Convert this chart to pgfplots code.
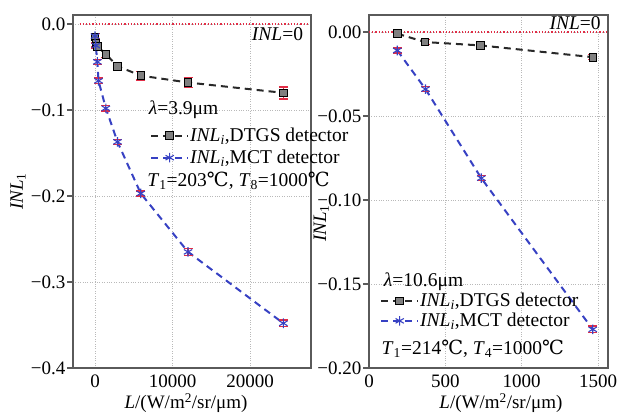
\documentclass[border=0pt]{standalone}
\usepackage{pgfplots}
\pgfplotsset{compat=1.18}
\usepackage{pgfplotstable}
\usepackage{fontspec}
\setmainfont{Liberation Serif}
\newfontfamily\dejavu{DejaVu Serif}
\newcommand{\degC}{{\dejavu ℃}}
\definecolor{mctblue}{RGB}{55,65,195}
\definecolor{dtgsblack}{RGB}{40,40,40}
\definecolor{errred}{RGB}{225,45,70}
\definecolor{framegray}{RGB}{90,90,90}

\pgfplotstableread{
x y e
0 -0.015 0.004
100 -0.022 0.004
300 -0.026 0.004
1400 -0.035 0.004
2900 -0.049 0.004
5900 -0.060 0.005
12000 -0.068 0.006
24300 -0.080 0.007
}\leftdtgs
\pgfplotstableread{
x y e
0 -0.014 0.003
100 -0.025 0.003
300 -0.044 0.003
450 -0.066 0.003
1400 -0.098 0.003
2900 -0.137 0.003
5900 -0.197 0.003
12000 -0.265 0.004
24300 -0.348 0.004
}\leftmct
\pgfplotstableread{
x y e
185 -0.001 0.0015
367 -0.006 0.0015
730 -0.008 0.0015
1465 -0.015 0.0015
}\rightdtgs
\pgfplotstableread{
x y e
185 -0.011 0.0015
370 -0.034 0.0015
735 -0.087 0.0015
1465 -0.177 0.002
}\rightmct

\pgfplotsset{
  common/.style={
    scale only axis, clip=false,
    height=353pt,
    font=\fontsize{19}{21}\selectfont,
    axis line style={framegray, line width=1.2pt},
    grid=major,
    major grid style={gray!55, dotted, line width=0.9pt},
    tick align=outside,
    xtick style={draw=none},
    ytick style={framegray, line width=1.2pt},
    major tick length=6pt,
    ytick pos=left, xtick pos=bottom,
    xticklabel style={inner sep=1pt},
    yticklabel style={inner sep=1.5pt},
    scaled x ticks=false, scaled y ticks=false,
    legend cell align=left,
    legend style={draw=none, fill=none, inner sep=0pt, row sep=5pt,
      nodes={inner sep=1pt},
      font=\fontsize{19.5}{21}\selectfont},
    legend image code/.code={
      \draw[mark repeat=2,mark phase=2,##1] plot coordinates {(0cm,0cm) (0.65cm,0cm) (1.3cm,0cm)};
    },
    xlabel={\textit{L}/(W/m\textsuperscript{2}/sr/μm)},
    ylabel={\textit{INL}\textsubscript{1}},
  },
  dtgs/.style={dtgsblack, line width=2pt, dash pattern=on 7pt off 5pt,
    mark=square*, mark size=3.8pt, mark options={solid, fill=gray, draw=black, line width=0.8pt}},
  mct/.style={mctblue, line width=2pt, dash pattern=on 7pt off 5pt,
    mark=asterisk, mark size=4.8pt, mark options={solid, mctblue, line width=1.1pt}},
  errs/.style={error bars/.cd, y dir=both, y explicit,
    error bar style={errred, line width=1.2pt, solid},
    error mark options={errred, mark size=4.5pt, line width=1.5pt, rotate=90}},
}

\begin{document}
\begin{tikzpicture}
\path[use as bounding box] (0,0) rectangle (617pt,-413pt);

\begin{axis}[common,
  at={(73pt,-368pt)}, anchor=south west,
  width=238pt,
  xmin=-2840, xmax=27870, ymin=-0.4, ymax=0.0105,
  xtick={0,10000,20000}, xticklabels={0,10000,20000},
  ytick={-0.4,-0.3,-0.2,-0.1,0}, yticklabels={−0.4,−0.3,−0.2,−0.1,0.0},
  ylabel style={at={(axis description cs:-0.231,0.5)}, anchor=center},
  xlabel style={at={(axis description cs:0.475,-0.072)}, anchor=north, inner sep=0pt},
  legend style={at={(axis description cs:0.3235,0.683)}, anchor=north west},
]
\addplot[errred, dotted, line width=1.2pt, forget plot] coordinates {(-2000,0) (27500,0)};
\addplot[dtgs, errs] table[x=x, y=y, y error=e] {\leftdtgs};
\addlegendentry{\textit{INL}\textsubscript{\textit{i}},DTGS detector}
\addplot[mct, errs] table[x=x, y=y, y error=e] {\leftmct};
\addlegendentry{\textit{INL}\textsubscript{\textit{i}},MCT detector}
\node[anchor=west, font=\fontsize{19.5}{21}\selectfont] at (axis cs:6500,-0.1) {\textit{λ}=3.9μm};
\node[anchor=west, font=\fontsize{19.5}{21}\selectfont] at (axis cs:6300,-0.1825) {\textit{T}\textsubscript{1}=203\degC, \textit{T}\textsubscript{8}=1000\degC};
\node[anchor=east, font=\fontsize{19.5}{21}\selectfont] at (axis cs:27300,-0.0116) {\textit{INL}=0};
\end{axis}

\begin{axis}[common,
  at={(369pt,-368pt)}, anchor=south west,
  width=239pt,
  xmin=0, xmax=1565, ymin=-0.2, ymax=0.0101,
  xtick={0,500,1000,1500}, xticklabels={0,500,1000,1500},
  ytick={-0.2,-0.15,-0.1,-0.05,0}, yticklabels={−0.20,−0.15,−0.10,−0.05,0.00},
  ylabel style={at={(axis description cs:-0.2,0.41)}, anchor=center},
  xlabel style={at={(axis description cs:0.552,-0.072)}, anchor=north, inner sep=0pt},
  legend style={at={(axis description cs:0.046,0.215)}, anchor=north west, row sep=3pt},
]
\addplot[errred, dotted, line width=1.2pt, forget plot] coordinates {(0,0) (1565,0)};
\addplot[dtgs, errs] table[x=x, y=y, y error=e] {\rightdtgs};
\addlegendentry{\textit{INL}\textsubscript{\textit{i}},DTGS detector}
\addplot[mct, errs] table[x=x, y=y, y error=e] {\rightmct};
\addlegendentry{\textit{INL}\textsubscript{\textit{i}},MCT detector}
\node[anchor=west, font=\fontsize{19.5}{21}\selectfont] at (axis cs:75,-0.1488) {\textit{λ}=10.6μm};
\node[anchor=west, font=\fontsize{19.5}{21}\selectfont] at (axis cs:60,-0.1887) {\textit{T}\textsubscript{1}=214\degC, \textit{T}\textsubscript{4}=1000\degC};
\node[anchor=east, font=\fontsize{19.5}{21}\selectfont] at (axis cs:1540,0.0054) {\textit{INL}=0};
\end{axis}
\end{tikzpicture}
\end{document}
